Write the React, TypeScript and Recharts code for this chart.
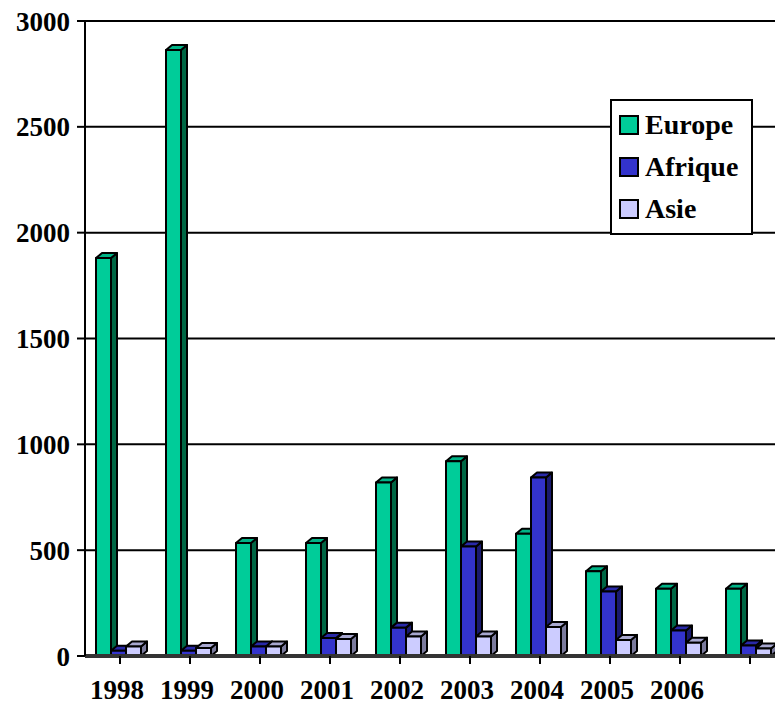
import { BarChart, Bar, XAxis, YAxis, CartesianGrid } from 'recharts'

const years = ['1998', '1999', '2000', '2001', '2002', '2003', '2004', '2005', '2006', '']
const europe = [1880, 2863, 534, 534, 820, 920, 578, 400, 318, 318]
const afrique = [25, 25, 45, 85, 134, 517, 843, 305, 120, 50]
const asie = [45, 38, 45, 80, 92, 92, 137, 76, 63, 35]
const yTicks = [0, 500, 1000, 1500, 2000, 2500, 3000]

const series = [
  { key: 'europe', name: 'Europe', front: '#00CC99', top: '#00B386', side: '#006644' },
  { key: 'afrique', name: 'Afrique', front: '#3333CC', top: '#2929A8', side: '#1A1A70' },
  { key: 'asie', name: 'Asie', front: '#CCCCFF', top: '#A8A8D0', side: '#7A7A9C' },
]

const data = years.map((year, i) => ({
  year,
  europe: europe[i],
  afrique: afrique[i],
  asie: asie[i],
}))

const font = 'Liberation Serif, Times New Roman, serif'
// 3D depth of the bars
const DX = 6
const DY = 5

const makeShape = (s: (typeof series)[number]) => (props: any) => {
  const { y, width, height } = props
  if (props.x == null || y == null) return null
  const x = props.x - 2
  const w = width
  const h = Math.max(height, 0)
  const top = `${x},${y} ${x + DX},${y - DY} ${x + w + DX},${y - DY} ${x + w},${y}`
  const side = `${x + w},${y} ${x + w + DX},${y - DY} ${x + w + DX},${y + h - DY} ${x + w},${y + h}`
  return (
    <g stroke="#000" strokeWidth={2} strokeLinejoin="round">
      <polygon points={side} fill={s.side} />
      <polygon points={top} fill={s.top} />
      <rect x={x} y={y} width={w} height={h} fill={s.front} />
    </g>
  )
}

const LegendBox = () => (
  <div
    style={{
      position: 'absolute',
      left: 610,
      top: 99,
      width: 143,
      border: '2px solid #000',
      background: '#fff',
      padding: '3px 0 3px 7px',
      fontFamily: font,
      fontWeight: 'bold',
      fontSize: 28,
      lineHeight: 1,
      color: '#000',
      boxSizing: 'border-box',
    }}
  >
    {series.map((s) => (
      <div key={s.key} style={{ display: 'flex', alignItems: 'center', height: 42 }}>
        <span
          style={{
            width: 16,
            height: 16,
            border: '2px solid #000',
            background: s.front,
            marginRight: 6,
            display: 'inline-block',
            flex: 'none',
          }}
        />
        <span>{s.name}</span>
      </div>
    ))}
  </div>
)

export default function App() {
  return (
    <div style={{ position: 'absolute', left: 0, top: 0, width: 775, height: 705, overflow: 'hidden', background: '#fff' }}>
      <BarChart
        width={790}
        height={705}
        data={data}
        margin={{ top: 21, right: 5, left: 0, bottom: 9 }}
        barGap={0}
        barSize={15}
      >
        <CartesianGrid horizontal vertical={false} stroke="#000" strokeWidth={2} strokeOpacity={1} />
        <XAxis
          dataKey="year"
          height={40}
          axisLine={{ stroke: '#333', strokeWidth: 4 }}
          tickLine={{ stroke: '#000', strokeWidth: 2 }}
          tickSize={8}
          tickMargin={16}
          interval={0}
          tick={{ fontSize: 27, fontWeight: 'bold', fill: '#000', fontFamily: font, dx: -3 }}
        />
        <YAxis
          width={85}
          domain={[0, 3000]}
          ticks={yTicks}
          interval={0}
          axisLine={{ stroke: '#000', strokeWidth: 2 }}
          tickLine={{ stroke: '#000', strokeWidth: 2 }}
          tickSize={8}
          tickMargin={7}
          tick={{ fontSize: 27, fontWeight: 'bold', fill: '#000', fontFamily: font }}
        />
        {series.map((s) => (
          <Bar
            key={s.key}
            dataKey={s.key}
            name={s.name}
            fill={s.front}
            shape={makeShape(s)}
            isAnimationActive={false}
          />
        ))}
      </BarChart>
      <LegendBox />
    </div>
  )
}
